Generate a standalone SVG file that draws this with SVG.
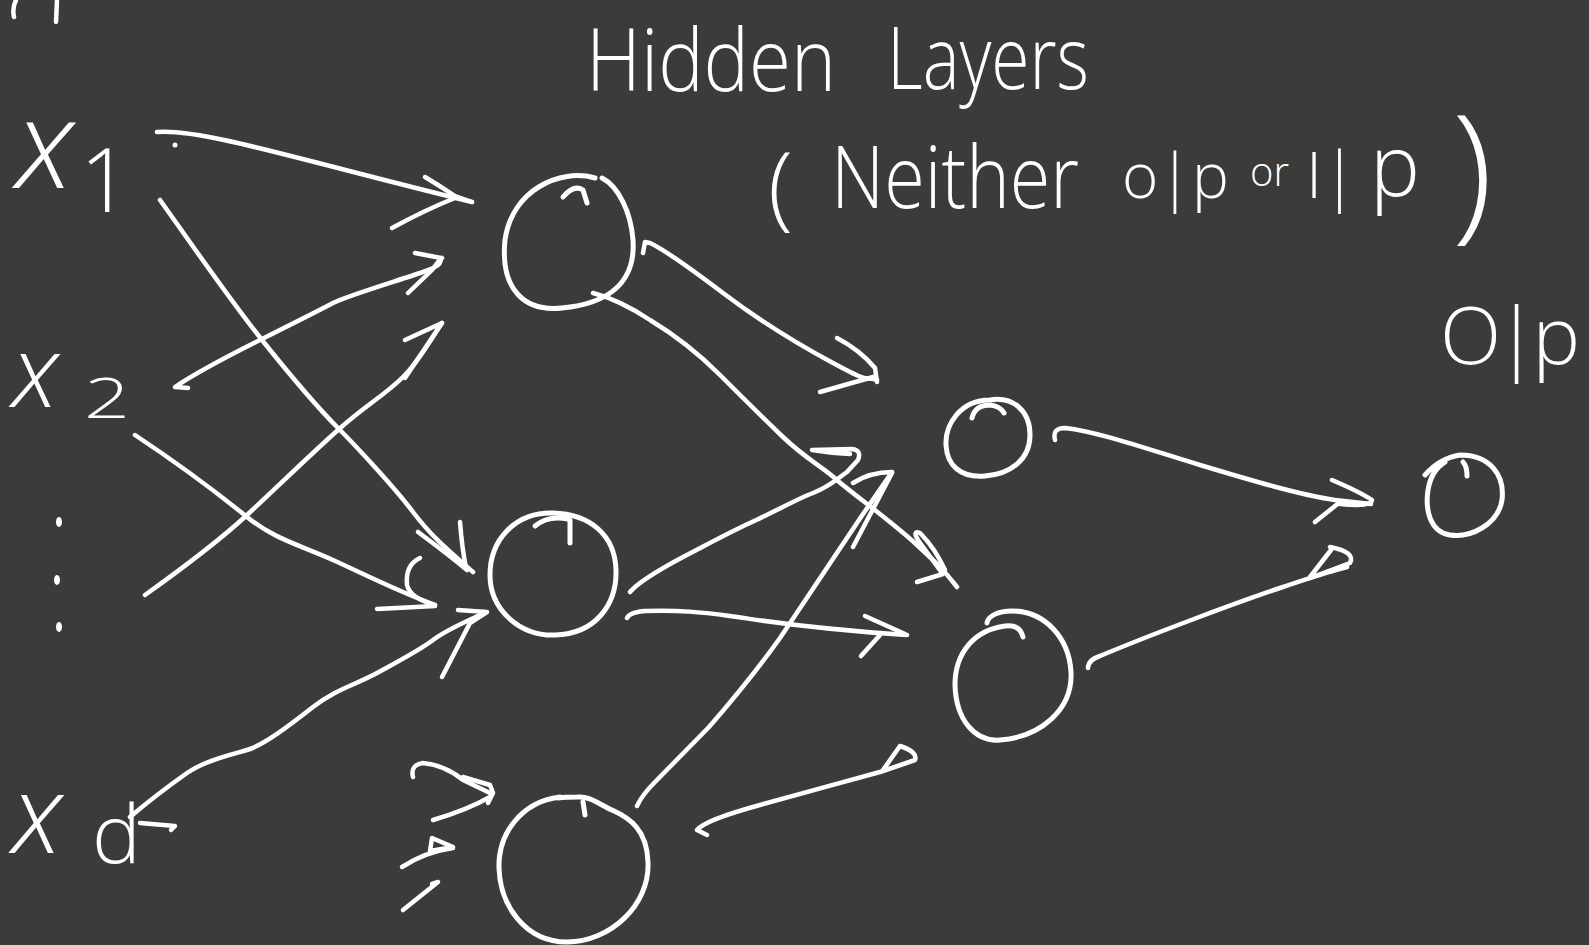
<svg xmlns="http://www.w3.org/2000/svg" width="1589" height="945" viewBox="0 0 1589 945">
  <style>
    .ink { fill: none; stroke: #ffffff; stroke-width: 4.5; stroke-linecap: round; stroke-linejoin: round; }
    .node { fill: none; stroke: #ffffff; stroke-width: 5; stroke-linecap: round; stroke-linejoin: round; }
    .hw { fill: #ffffff; font-family: "Open Sans", "Liberation Sans", sans-serif; font-weight: 300; }
    .var { fill: #ffffff; font-family: "Open Sans", "Liberation Sans", sans-serif; font-weight: 300; font-style: italic; }
  </style>
  <rect width="1589" height="945" fill="#3b3b3a"/>

  <!-- stray pen strokes at the top edge -->
  <path class="ink" d="M16,0 Q 12,8 14,17 M57,0 L56,22"/>

  <!-- titles -->
  <g id="title">
    <text class="hw" font-size="86"><tspan x="586" y="91" textLength="250" lengthAdjust="spacingAndGlyphs">Hidden</tspan><tspan x="887" y="89" textLength="202" lengthAdjust="spacingAndGlyphs">Layers</tspan></text>
  </g>
  <g id="subtitle">
    <text class="hw" font-size="92" x="768" y="218">(</text>
    <text class="hw" font-size="86" x="831" y="208" textLength="248" lengthAdjust="spacingAndGlyphs">Neither</text>
    <text class="hw" font-size="62" x="1122" y="198">o|p</text>
    <text class="hw" font-size="40" x="1250" y="186">or</text>
    <text class="hw" font-size="64" x="1306" y="198">I|</text>
    <text class="hw" font-size="84" x="1370" y="196">p</text>
    <text class="hw" font-size="150" x="1452" y="222">)</text>
  </g>
  <g id="output-label">
    <text class="hw" font-size="80" x="1440" y="364" textLength="140" lengthAdjust="spacing">O|p</text>
  </g>

  <!-- input labels -->
  <g id="x1">
    <text class="var" font-size="124" x="16" y="188">x</text>
    <text class="hw" font-size="88" x="80" y="212">1</text>
  </g>
  <g id="x2">
    <text class="var" font-size="100" x="12" y="407">x</text>
    <text class="hw" font-size="56" x="84" y="418" textLength="46" lengthAdjust="spacingAndGlyphs">2</text>
  </g>
  <g id="dots">
    <ellipse cx="59" cy="522" rx="3" ry="5" fill="#ffffff"/>
    <ellipse cx="57" cy="580" rx="3" ry="5" fill="#ffffff"/>
    <ellipse cx="59" cy="627" rx="3" ry="5" fill="#ffffff"/>
  </g>
  <g id="xd">
    <text class="var" font-size="108" x="12" y="853">x</text>
    <text class="hw" font-size="82" x="92" y="863">d</text>
  </g>

  <!-- hidden layer 1 -->
  <g id="h1a">
    <path class="node" d="M595,178 C 560,168 512,190 505,240 C 500,290 525,312 562,308 C 605,304 636,285 633,240 C 631,212 618,186 602,178"/>
    <path class="node" d="M563,197 Q 574,184 583,190 L587,203"/>
  </g>
  <g id="h1b">
    <path class="node" d="M553,513 C 515,512 490,540 490,575 C 490,610 520,636 555,635 C 595,634 617,605 616,570 C 615,535 590,514 553,513"/>
    <path class="node" d="M535,526 Q 548,515 568,519 M570,520 L570,543"/>
  </g>
  <g id="h1c">
    <path class="node" d="M560,797 C 520,802 498,835 499,868 C 500,905 525,942 567,942 C 610,942 650,905 648,862 C 647,830 630,818 612,810 C 600,805 590,796 578,797 C 570,797 565,797 558,798"/>
    <path class="node" d="M583,802 L585,815"/>
  </g>

  <!-- hidden layer 2 -->
  <g id="h2a">
    <path class="node" d="M990,400 C 960,400 945,425 946,445 C 947,465 960,478 985,476 C 1010,474 1030,460 1030,435 C 1030,410 1012,396 990,400"/>
    <path class="node" d="M972,418 Q 975,405 990,405 Q 1000,406 1004,413"/>
  </g>
  <g id="h2b">
    <path class="node" d="M1023,637 Q 1020,624 1005,626 C 975,630 955,652 955,685 C 956,720 975,742 1000,740 C 1040,737 1073,710 1071,672 C 1069,638 1045,611 1012,611 C 998,611 988,616 987,623"/>
  </g>

  <!-- output node -->
  <g id="out">
    <path class="node" d="M1425,475 Q 1440,458 1460,455 C 1490,455 1505,475 1502,500 C 1498,525 1470,538 1450,535 C 1430,532 1425,510 1428,490 C 1430,478 1435,468 1445,462"/>
    <path class="node" d="M1463,462 Q 1467,466 1467,476"/>
  </g>

  <!-- connectors: shafts with hand-drawn heads -->
  <g id="connectors">
    <!-- x1 to h1a -->
    <path class="ink" d="M157,132 C 200,128 300,160 472,202"/>
    <circle cx="175" cy="145" r="2.5" fill="#ffffff"/>
    <path class="ink" d="M425,177 Q 440,186 455,196 L472,202 M392,228 Q 425,210 455,198"/>
    <!-- x1 to h1b -->
    <path class="ink" d="M160,200 C 200,256 230,300 262,340 S 320,410 338,428 S 395,488 413,512 S 450,552 473,572"/>
    <path class="ink" d="M460,522 Q 462,548 466,568 M418,532 Q 445,552 467,570"/>
    <!-- x2 to h1a -->
    <path class="ink" d="M188,388 L175,387 C 200,370 230,355 260,340 S 320,310 333,303 S 400,280 423,272 S 438,262 442,258"/>
    <path class="ink" d="M415,253 L441,258 L432,270 L408,293"/>
    <!-- x2 to h1b -->
    <path class="ink" d="M135,435 C 180,465 220,495 247,517 S 300,545 333,560 S 395,590 435,605"/>
    <path class="ink" d="M420,558 Q 405,565 407,585 Q 410,598 435,605 M377,609 L435,606"/>
    <!-- lower input to h1a -->
    <path class="ink" d="M145,595 C 180,570 220,540 247,515 S 310,455 338,430 S 385,395 403,377 S 430,340 442,323"/>
    <path class="ink" d="M405,340 L442,323 L405,378"/>
    <!-- xd to h1b -->
    <path class="ink" d="M130,817 C 150,800 170,785 187,773 S 230,755 247,750 S 290,725 313,707 S 355,685 377,673 S 420,650 433,640 S 465,622 480,615"/>
    <path class="ink" d="M458,610 L487,612 L470,623 L442,677"/>
    <path class="ink" d="M140,823 L175,826 L171,830"/>
    <!-- short arrows into h1c -->
    <path class="ink" d="M413,777 Q 410,765 423,763 Q 445,765 463,780 L490,793"/>
    <path class="ink" d="M463,777 L490,785 L493,793 L488,803 M433,820 Q 467,810 490,797"/>
    <path class="ink" d="M402,867 Q 425,852 453,848 M432,838 L453,847 L430,851 Z"/>
    <path class="ink" d="M403,910 L438,882 L432,884"/>
    <!-- h1a to h2a -->
    <path class="ink" d="M643,253 L645,242 L650,243 C 665,250 690,268 723,293 S 790,340 833,363 S 860,375 877,380"/>
    <path class="ink" d="M837,338 Q 860,350 875,368 L877,382 M820,392 L873,377"/>
    <!-- h1a to h2b -->
    <path class="ink" d="M593,293 Q 620,300 650,320 C 680,338 700,355 720,375 S 760,415 783,437 S 820,465 837,480 S 890,520 917,545 S 945,572 957,587"/>
    <path class="ink" d="M942,573 L918,540 Q 912,530 920,533 Q 935,548 945,570 M917,582 L943,574"/>
    <!-- h1b to h2a -->
    <path class="ink" d="M630,592 Q 640,580 683,557 C 710,543 730,532 750,523 S 795,500 813,493 S 838,478 847,472 L858,460 Q 862,450 852,449 L812,450 Q 830,453 850,454"/>
    <!-- h1c to h2a -->
    <path class="ink" d="M637,806 Q 642,795 655,782 L709,727 Q 750,680 780,638 L861,517 L892,472"/>
    <path class="ink" d="M853,483 Q 870,472 892,472 M892,473 L853,547"/>
    <!-- h1b to h2b -->
    <path class="ink" d="M627,618 Q 630,612 645,611 C 680,610 700,612 730,616 S 800,628 907,635"/>
    <path class="ink" d="M865,616 Q 885,625 905,634 M880,635 L861,656"/>
    <!-- h1c onward -->
    <path class="ink" d="M707,835 L697,830 Q 705,820 760,805 S 850,780 880,772 L915,760 Q 918,752 900,746 L883,770"/>
    <!-- h2a to out -->
    <path class="ink" d="M1055,440 Q 1052,428 1065,428 C 1100,432 1150,450 1200,465 S 1300,495 1335,500 L1371,504"/>
    <path class="ink" d="M1332,480 Q 1360,492 1372,500 Q 1372,507 1340,504 M1340,502 L1315,522"/>
    <!-- h2b to out -->
    <path class="ink" d="M1088,668 Q 1088,660 1100,656 C 1150,635 1230,605 1280,588 S 1330,572 1347,567"/>
    <path class="ink" d="M1330,547 Q 1356,552 1350,563 L1310,578 M1331,550 L1310,577"/>
  </g>
</svg>
